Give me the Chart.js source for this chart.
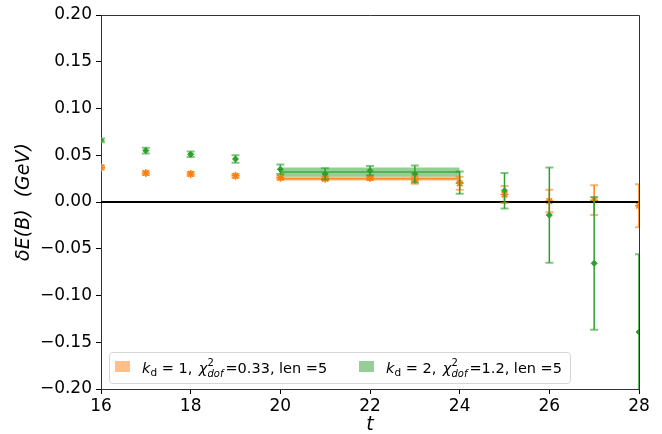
<!DOCTYPE html>
<html>
<head>
<meta charset="utf-8">
<script src="https://cdn.jsdelivr.net/npm/chart.js@4.4.0/dist/chart.umd.min.js"></script>
<style>
  html, body { margin: 0; padding: 0; background: #fff; }
  #wrap { width: 662px; height: 434px; }
</style>
</head>
<body>
<div id="wrap"><canvas id="chart" width="662" height="434"></canvas></div>
<script>
// data
const tVals = [16, 17, 18, 19, 20, 21, 22, 23, 24, 25, 26, 27, 28];
const kd1Vals = [0.037, 0.031, 0.030, 0.028, 0.026, 0.025, 0.0257, 0.0235, 0.020, 0.008, 0.001, 0.002, -0.004];
const kd1Errs = [0.002, 0.002, 0.002, 0.002, 0.002, 0.002, 0.002, 0.004, 0.007, 0.009, 0.012, 0.016, 0.023];
const kd2Vals = [0.066, 0.055, 0.051, 0.046, 0.035, 0.030, 0.0335, 0.030, 0.0207, 0.012, -0.014, -0.0656, -0.139];
const kd2Errs = [0.002, 0.003, 0.003, 0.004, 0.005, 0.006, 0.005, 0.009, 0.012, 0.019, 0.051, 0.071, 0.083];

const fitRange = [20, 24];
const fitVals = [0.025, 0.032];
const fitErrs = [0.0021, 0.0049];
const fitKd = ['1', '2'];
const fitChi2 = ['0.33', '1.2'];
const fitLen = ['5', '5'];

const xTicks = [16, 18, 20, 22, 24, 26, 28];
const yTicks = [-0.20, -0.15, -0.10, -0.05, 0.00, 0.05, 0.10, 0.15, 0.20];

const ORANGE = '#ff7f0e';
const GREEN = '#2ca02c';
const FAM = '"DejaVu Sans", sans-serif';

const pts = vals => tVals.map((t, i) => ({ x: t, y: vals[i] }));
const bandHi = (v, e) => [{ x: fitRange[0], y: v + e }, { x: fitRange[1], y: v + e }];
const bandLo = (v, e) => [{ x: fitRange[0], y: v - e }, { x: fitRange[1], y: v - e }];
const flat = v => [{ x: fitRange[0], y: v }, { x: fitRange[1], y: v }];

// error bars
const errorBars = {
    id: 'errorBars',
    afterDatasetsDraw(chart) {
        const { ctx, chartArea: a, scales: { x, y } } = chart;
        ctx.save();
        ctx.beginPath();
        ctx.rect(a.left, a.top, a.right - a.left, a.bottom - a.top);
        ctx.clip();
        [[kd1Vals, kd1Errs, ORANGE], [kd2Vals, kd2Errs, GREEN]].forEach(([vals, errs, col]) => {
            tVals.forEach((t, i) => {
                const px = x.getPixelForValue(t);
                const top = y.getPixelForValue(vals[i] + errs[i]);
                const bot = y.getPixelForValue(vals[i] - errs[i]);
                ctx.strokeStyle = col;
                ctx.globalAlpha = 1;
                ctx.lineWidth = 1.5;
                ctx.beginPath();
                ctx.moveTo(px, top);
                ctx.lineTo(px, bot);
                ctx.stroke();
                ctx.globalAlpha = 0.6;
                ctx.lineWidth = 2;
                ctx.beginPath();
                ctx.moveTo(px - 4, top);
                ctx.lineTo(px + 4, top);
                ctx.moveTo(px - 4, bot);
                ctx.lineTo(px + 4, bot);
                ctx.stroke();
            });
        });
        ctx.restore();
    }
};

// top/right spines and rotated y label
const frame = {
    id: 'frame',
    afterDraw(chart) {
        const { ctx, chartArea: a } = chart;
        ctx.save();
        ctx.strokeStyle = '#333';
        ctx.lineWidth = 1;
        ctx.beginPath();
        ctx.moveTo(a.left, a.top + 0.5);
        ctx.lineTo(a.right + 0.5, a.top + 0.5);
        ctx.lineTo(a.right + 0.5, a.bottom);
        ctx.stroke();
        ctx.translate(24, (a.top + a.bottom) / 2);
        ctx.rotate(-Math.PI / 2);
        ctx.fillStyle = '#000';
        ctx.font = 'italic 19px ' + FAM;
        ctx.textAlign = 'center';
        ctx.textBaseline = 'middle';
        ctx.fillText('δE(B)  (GeV)', 0, 0);
        ctx.restore();
    }
};

// legend with math-style text
const mathLegend = {
    id: 'mathLegend',
    afterDraw(chart) {
        const { ctx } = chart;
        ctx.save();
        const bx = 109, by = 352, bw = 461, bh = 31;
        ctx.fillStyle = 'rgba(255,255,255,0.8)';
        ctx.strokeStyle = '#d6d6d6';
        ctx.lineWidth = 1;
        ctx.beginPath();
        ctx.roundRect(bx + 0.5, by + 0.5, bw, bh, 3);
        ctx.fill();
        ctx.stroke();

        const patches = ['#ffbf86', '#96cf96'];
        const starts = [115, 359];
        const base = 373;
        fitKd.forEach((kd, i) => {
            let px = starts[i];
            ctx.fillStyle = patches[i];
            ctx.fillRect(px, 361, 15, 11);
            px += 27;
            ctx.fillStyle = '#000';
            ctx.textBaseline = 'alphabetic';
            ctx.textAlign = 'left';
            const put = (txt, font, dy) => {
                ctx.font = font;
                ctx.fillText(txt, px, base + dy);
                px += ctx.measureText(txt).width;
            };
            put('k', 'italic 14.5px ' + FAM, 0);
            put('d', '10.5px ' + FAM, 3);
            put(' = ' + kd + ', ', '14.5px ' + FAM, 0);
            px += 2;
            put('χ', 'italic 14.5px ' + FAM, 0);
            const x0 = px;
            ctx.font = '10px ' + FAM;
            ctx.fillText('2', x0, base - 7);
            const w2 = ctx.measureText('2').width;
            ctx.font = 'italic 10px ' + FAM;
            ctx.fillText('dof', x0, base + 4);
            const w3 = ctx.measureText('dof').width;
            px = x0 + Math.max(w2, w3) + 2;
            put('=' + fitChi2[i] + ', len =' + fitLen[i], '14.5px ' + FAM, 0);
        });
        ctx.restore();
    }
};

new Chart(document.getElementById('chart').getContext('2d'), {
    type: 'scatter',
    data: {
        datasets: [
            { data: bandHi(fitVals[0], fitErrs[0]), showLine: true, pointRadius: 0, borderWidth: 0, borderColor: 'transparent' },
            { data: bandLo(fitVals[0], fitErrs[0]), showLine: true, pointRadius: 0, borderWidth: 0, borderColor: 'transparent',
              fill: '-1', backgroundColor: 'rgba(255,127,14,0.5)' },
            { data: flat(fitVals[0]), showLine: true, pointRadius: 0, borderWidth: 1.5, borderColor: 'rgba(255,127,14,0.8)' },
            { data: bandHi(fitVals[1], fitErrs[1]), showLine: true, pointRadius: 0, borderWidth: 0, borderColor: 'transparent' },
            { data: bandLo(fitVals[1], fitErrs[1]), showLine: true, pointRadius: 0, borderWidth: 0, borderColor: 'transparent',
              fill: '-1', backgroundColor: 'rgba(44,160,44,0.5)' },
            { data: flat(fitVals[1]), showLine: true, pointRadius: 0, borderWidth: 1.5, borderColor: 'rgba(44,160,44,0.8)' },
            { data: [{ x: 16, y: 0 }, { x: 28, y: 0 }], showLine: true, pointRadius: 0, borderWidth: 2, borderColor: '#000' },
            { data: pts(kd1Vals), pointStyle: 'star', pointRadius: 4, borderWidth: 1.5, borderColor: ORANGE, backgroundColor: ORANGE },
            { data: pts(kd2Vals), pointStyle: 'rectRot', pointRadius: 3, borderWidth: 1, borderColor: GREEN, backgroundColor: GREEN }
        ]
    },
    options: {
        responsive: false,
        animation: false,
        layout: { padding: { top: 15, right: 23, left: 0, bottom: 0 } },
        plugins: { legend: { display: false }, tooltip: { enabled: false } },
        scales: {
            x: {
                type: 'linear', min: 16, max: 28,
                afterFit(s) { s.height = 45; },
                afterBuildTicks(s) { s.ticks = xTicks.map(v => ({ value: v })); },
                ticks: { color: '#000', font: { size: 17, family: FAM }, padding: 2, maxRotation: 0 },
                grid: { drawOnChartArea: false, tickLength: 5, color: '#000' },
                border: { color: '#333', width: 1 },
                title: { display: true, text: 't', color: '#000', padding: { top: 0, bottom: -2 },
                         font: { size: 19, style: 'italic', family: FAM } }
            },
            y: {
                min: -0.2, max: 0.2,
                afterFit(s) { s.width = 101; },
                afterBuildTicks(s) { s.ticks = yTicks.map(v => ({ value: v })); },
                ticks: { color: '#000', font: { size: 17, family: FAM }, padding: 4,
                         callback: v => v.toFixed(2).replace('-', '\u2212') },
                grid: { drawOnChartArea: false, tickLength: 5, color: '#000' },
                border: { color: '#333', width: 1 }
            }
        }
    },
    plugins: [errorBars, frame, mathLegend]
});
</script>
</body>
</html>
